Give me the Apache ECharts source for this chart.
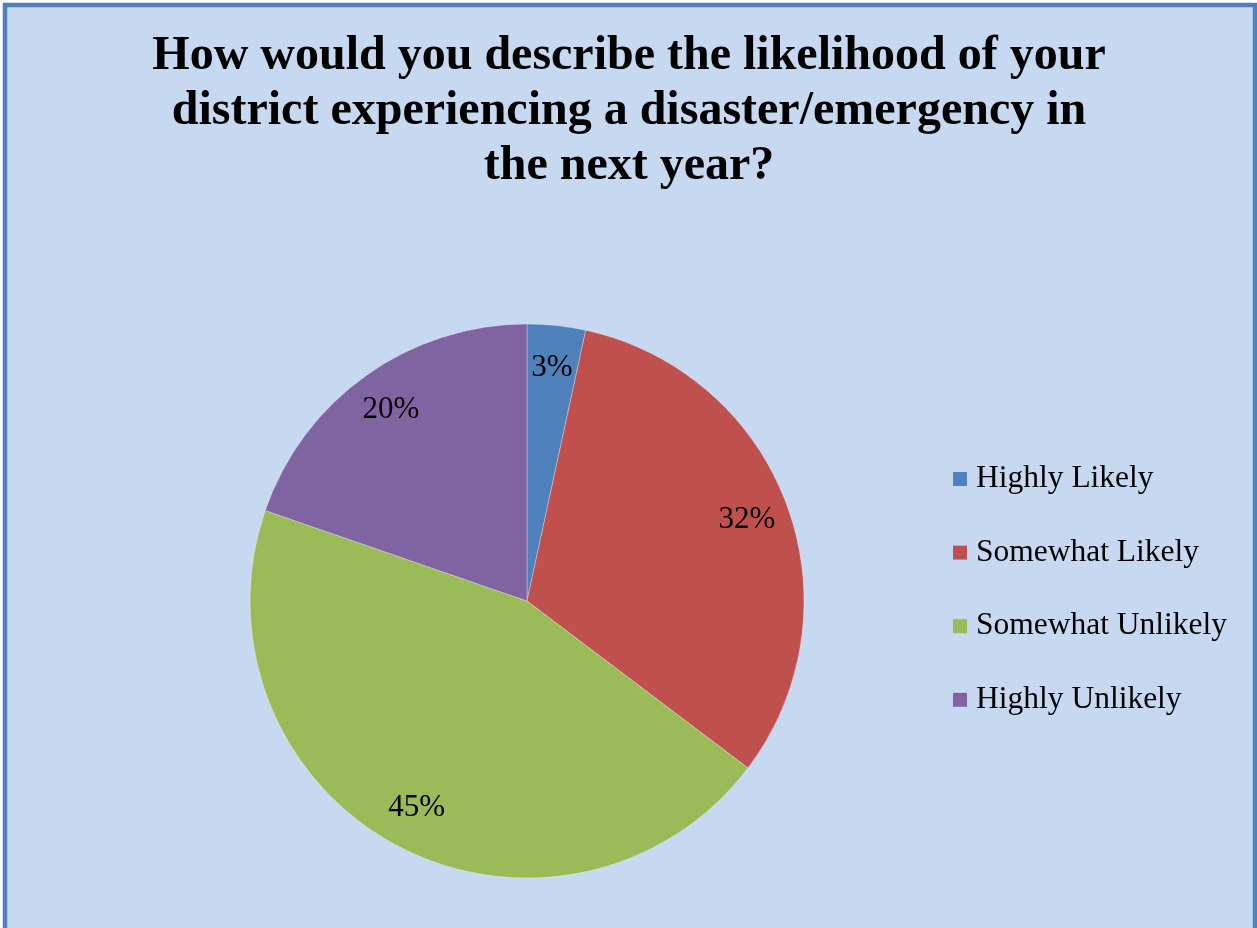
<!DOCTYPE html>
<html>
<head>
<meta charset="utf-8">
<script src="https://cdn.jsdelivr.net/npm/echarts@6/dist/echarts.min.js"></script>
<style>
html,body{margin:0;padding:0;background:#ffffff;}
#chart{width:1257px;height:928px;}
</style>
</head>
<body>
<div id="chart"></div>
<script>
const titleText = 'How would you describe the likelihood of your\ndistrict experiencing a disaster/emergency in\nthe next year?';
const categories = ['Highly Likely', 'Somewhat Likely', 'Somewhat Unlikely', 'Highly Unlikely'];
const values = [3.4, 31.9, 45.0, 19.7];
const colors = ['#4F81BD', '#C0504D', '#9BBB59', '#8064A2'];

const data = categories.map((c, i) => ({ name: c, value: values[i], itemStyle: { color: colors[i] } }));

const chart = echarts.init(document.getElementById('chart'), null, { renderer: 'canvas' });
chart.setOption({
  backgroundColor: '#ffffff',
  animation: false,
  graphic: [{
    type: 'rect',
    z: -10,
    shape: { x: 5, y: 5, width: 1250, height: 930 },
    style: { fill: '#C6D9F1', stroke: '#4F81BD', lineWidth: 4.5 }
  }, {
    type: 'text',
    x: 629,
    y: 29,
    style: {
      text: titleText,
      fontFamily: 'Liberation Serif',
      fontWeight: 'bold',
      fontSize: 48,
      lineHeight: 55,
      fill: '#000000',
      align: 'center',
      verticalAlign: 'top'
    }
  }],
  legend: {
    orient: 'vertical',
    left: 953,
    top: 463,
    padding: 0,
    itemWidth: 14,
    itemHeight: 14,
    itemGap: 41.6,
    icon: 'rect',
    itemStyle: { borderWidth: 0 },
    data: categories,
    textStyle: { fontFamily: 'Liberation Serif', fontSize: 31.5, lineHeight: 30, color: '#000000', padding: [0, 0, 0, 4] }
  },
  series: [{
    type: 'pie',
    center: [527, 601],
    radius: [0, 277],
    startAngle: 90,
    clockwise: true,
    silent: true,
    label: { show: false },
    labelLine: { show: false },
    itemStyle: { borderColor: 'rgba(255,255,255,0.6)', borderWidth: 0.5 },
    data: data
  }, {
    type: 'pie',
    center: [527, 601],
    radius: [186, 277],
    startAngle: 90,
    clockwise: true,
    silent: true,
    legendHoverLink: false,
    itemStyle: { color: 'rgba(0,0,0,0)' },
    label: {
      show: true,
      position: 'inside',
      fontFamily: 'Liberation Serif',
      fontSize: 31,
      color: '#000000',
      formatter: p => Math.round(p.percent) + '%'
    },
    labelLine: { show: false },
    data: categories.map((c, i) => ({ name: c + ' ', value: values[i] }))
  }]
});
</script>
</body>
</html>
